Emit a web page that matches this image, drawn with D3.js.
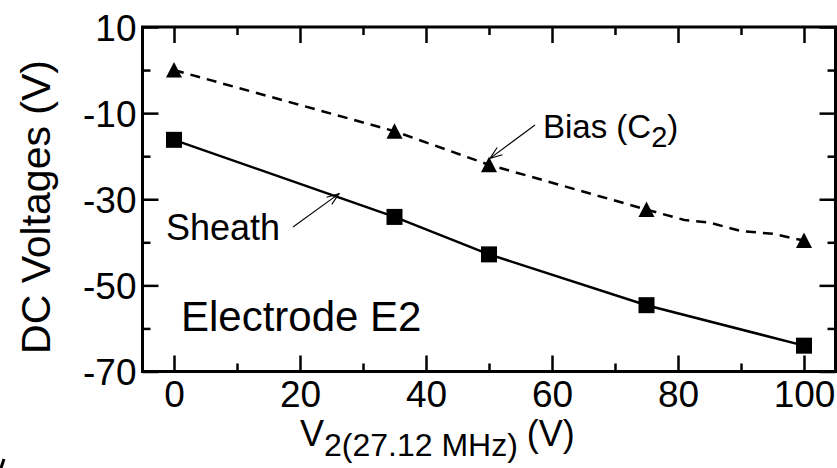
<!DOCTYPE html>
<html><head><meta charset="utf-8">
<script src="https://cdn.jsdelivr.net/npm/d3@7"></script>
<style>body{margin:0;background:#fff}svg{display:block}text{font-family:"Liberation Sans",Arial,sans-serif;fill:#000}</style>
</head><body><svg id="c" width="837" height="468"></svg>
<script>
// Data
const voltages = [0, 35, 50, 75, 100];                 // V2 (27.12 MHz), V
const biasValues = [0, -14.2, -22, -32.4, -39.6];      // Bias (C2), triangles
const sheathValues = [-16.2, -34.1, -42.8, -54.6, -64]; // Sheath, squares
// dashed trace drawn through the bias points (includes its kinks)
const biasCurveX = [0, 35, 50, 75, 81, 85, 90, 95, 100];
const biasCurveY = [0, -14.2, -22, -32.4, -34.8, -35.4, -37.4, -38.0, -39.6];
const xTicksMajor = [0, 20, 40, 60, 80, 100];
const xTicksMinor = [10, 30, 50, 70, 90];
const yTicksMajor = [10, -10, -30, -50, -70];
const yTicksMinor = [0, -20, -40, -60];

const svg = d3.select("#c");
const x = d3.scaleLinear().domain([-5, 105]).range([142.5, 835.5]);
const y = d3.scaleLinear().domain([-70, 10]).range([371.5, 27]);
const [x0, x1] = x.range(), [y0, y1] = y.range();

// axes (box with inward ticks)
const gAx = svg.append("g");
const bottom = d3.axisBottom(x).tickValues(xTicksMajor).tickSize(-16).tickPadding(0).tickFormat(d3.format("d"));
const gb = gAx.append("g").attr("transform", `translate(0,${y0})`).call(bottom);
gb.selectAll("text").attr("dy", null).attr("y", 35).style("font-size", "37px");
gAx.append("g").attr("transform", `translate(0,${y0})`).call(d3.axisBottom(x).tickValues(xTicksMinor).tickSize(-8).tickFormat(""));
gAx.append("g").attr("transform", `translate(0,${y1})`).call(d3.axisTop(x).tickValues(xTicksMajor).tickSize(-16).tickFormat(""));
gAx.append("g").attr("transform", `translate(0,${y1})`).call(d3.axisTop(x).tickValues(xTicksMinor).tickSize(-8).tickFormat(""));
const gl = gAx.append("g").attr("transform", `translate(${x0},0)`).call(d3.axisLeft(y).tickValues(yTicksMajor).tickSize(-16).tickPadding(6).tickFormat(d3.format("d")));
gl.selectAll("text").attr("x", -6).attr("dy", "0.36em").style("font-size", "37px");
gAx.append("g").attr("transform", `translate(${x0},0)`).call(d3.axisLeft(y).tickValues(yTicksMinor).tickSize(-8).tickFormat(""));
gAx.append("g").attr("transform", `translate(${x1},0)`).call(d3.axisRight(y).tickValues(yTicksMajor).tickSize(-16).tickFormat(""));
gAx.append("g").attr("transform", `translate(${x1},0)`).call(d3.axisRight(y).tickValues(yTicksMinor).tickSize(-8).tickFormat(""));
gAx.selectAll(".domain").remove();
gAx.selectAll(".tick line").attr("stroke", "#000").attr("stroke-width", 2.5);
gAx.selectAll(".tick text").attr("fill", "#000").attr("font-family", '"Liberation Sans",Arial,sans-serif');
gAx.selectAll("text").each(function(){ const t=d3.select(this); t.text(t.text().replace("−","-")); });
svg.append("rect").attr("x", x0).attr("y", y1).attr("width", x1 - x0).attr("height", y0 - y1)
  .attr("fill", "none").attr("stroke", "#000").attr("stroke-width", 3);

// lines
const line = d3.line().x(d => x(d[0])).y(d => y(d[1]));
svg.append("path").attr("d", line(biasCurveX.map((v, i) => [v, biasCurveY[i]])))
  .attr("fill", "none").attr("stroke", "#000").attr("stroke-width", 2.5).attr("stroke-dasharray", "10,7");
svg.append("path").attr("d", line(voltages.map((v, i) => [v, sheathValues[i]])))
  .attr("fill", "none").attr("stroke", "#000").attr("stroke-width", 2.5);

// markers
svg.append("g").selectAll("path").data(voltages).join("path")
  .attr("transform", (d, i) => `translate(${x(d)},${y(biasValues[i])})`)
  .attr("d", "M0,-8L8,7.5L-8,7.5Z").attr("fill", "#000");
svg.append("g").selectAll("rect").data(voltages).join("rect")
  .attr("x", d => x(d) - 8).attr("y", (d, i) => y(sheathValues[i]) - 8)
  .attr("width", 16).attr("height", 16).attr("fill", "#000");

// annotations
function arrow(xa, ya, xb, yb) {
  const g = svg.append("g").attr("stroke", "#000").attr("stroke-width", 1.1).attr("fill", "none");
  g.append("line").attr("x1", xa).attr("y1", ya).attr("x2", xb).attr("y2", yb);
  const ang = Math.atan2(yb - ya, xb - xa), L = 13, w = 0.35;
  g.append("path").attr("d", `M${xb - L * Math.cos(ang - w)},${yb - L * Math.sin(ang - w)}L${xb},${yb}L${xb - L * Math.cos(ang + w)},${yb - L * Math.sin(ang + w)}`);
}
arrow(535, 125, x(50) + 1, y(-20.5));
arrow(293, 227, x(26.2), y(-28.7));

const bias = svg.append("text").attr("x", 543).attr("y", 138).style("font-size", "33px");
bias.append("tspan").text("Bias (C");
bias.append("tspan").attr("dy", 9).style("font-size", "29px").text("2");
bias.append("tspan").attr("dy", -9).text(")");
svg.append("text").attr("x", 166).attr("y", 240).style("font-size", "36px").text("Sheath");
svg.append("text").attr("x", 181).attr("y", 331).style("font-size", "42px").text("Electrode E2");

// axis titles
const xt = svg.append("text").attr("x", 300).attr("y", 446).style("font-size", "36px");
xt.append("tspan").text("V");
xt.append("tspan").attr("dy", 10).style("font-size", "32px").text("2(27.12 MHz) ");
xt.append("tspan").attr("dy", -10).style("font-size", "36px").text("(V)");
svg.append("text").attr("transform", "translate(50,207) rotate(-90)").attr("text-anchor", "middle")
  .style("font-size", "41px").text("DC Voltages (V)");

// small stray mark at the bottom-left corner of the original
svg.append("line").attr("x1", 4).attr("y1", 459).attr("x2", 1).attr("y2", 468).attr("stroke", "#000").attr("stroke-width", 3);
</script></body></html>
